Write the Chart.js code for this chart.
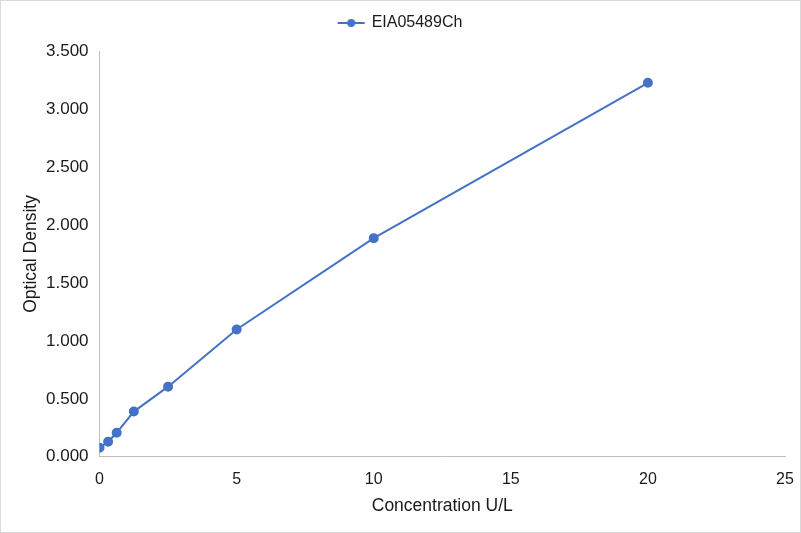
<!DOCTYPE html>
<html>
<head>
<meta charset="utf-8">
<script src="https://cdn.jsdelivr.net/npm/chart.js@4"></script>
<style>
  body { margin: 0; background: #fff; }
  canvas { display: block; }
</style>
</head>
<body>
<canvas id="chart" width="801" height="533"></canvas>
<script>
const seriesName = 'EIA05489Ch';
const concentrations = [0, 0.3125, 0.625, 1.25, 2.5, 5, 10, 20];
const densities = [0.078, 0.130, 0.207, 0.390, 0.605, 1.098, 1.886, 3.226];
const xTicks = [0, 5, 10, 15, 20, 25];
const yTicks = [0, 0.5, 1, 1.5, 2, 2.5, 3, 3.5];

const lineColor = '#4472C4';
const textColor = '#1a1a1a';

const borderPlugin = {
  id: 'outerBorder',
  afterDraw(chart) {
    const ctx = chart.ctx;
    ctx.save();
    ctx.strokeStyle = '#d9d9d9';
    ctx.lineWidth = 1;
    ctx.strokeRect(0.5, 0.5, chart.width - 1, chart.height - 1);
    ctx.restore();
  }
};

// legend symbol: short line with a dot
const legendMark = document.createElement('canvas');
legendMark.width = 44;
legendMark.height = 10;
(function() {
  const c = legendMark.getContext('2d');
  c.strokeStyle = lineColor;
  c.lineWidth = 2;
  c.beginPath();
  c.moveTo(6, 5);
  c.lineTo(33, 5);
  c.stroke();
  c.fillStyle = lineColor;
  c.beginPath();
  c.arc(19.5, 5, 4, 0, Math.PI * 2);
  c.fill();
})();

Chart.defaults.font.family = '"Liberation Sans", Arial, sans-serif';
Chart.defaults.color = textColor;

new Chart(document.getElementById('chart').getContext('2d'), {
  type: 'line',
  data: {
    datasets: [{
      label: seriesName,
      data: concentrations.map((x, i) => ({ x: x, y: densities[i] })),
      borderColor: lineColor,
      backgroundColor: lineColor,
      borderWidth: 2,
      pointRadius: 4,
      pointHoverRadius: 4,
      tension: 0
    }]
  },
  options: {
    responsive: false,
    animation: false,
    layout: { padding: { left: 21, right: 16, top: 1, bottom: 16 } },
    plugins: {
      legend: {
        position: 'top',
        labels: {
          font: { size: 16 },
          color: textColor,
          usePointStyle: true,
          pointStyleWidth: 20,
          padding: 14,
          generateLabels: chart => [{
            text: seriesName,
            pointStyle: legendMark,
            fontColor: textColor,
            datasetIndex: 0,
            hidden: false,
            lineWidth: 0
          }]
        }
      },
      // empty title used as a spacer between legend and plot
      title: { display: true, text: '', weight: 500, padding: 0, font: { size: 10, lineHeight: 1 } },
      tooltip: { enabled: false }
    },
    scales: {
      x: {
        type: 'linear',
        min: 0,
        max: 25,
        afterBuildTicks: axis => { axis.ticks = xTicks.map(v => ({ value: v })); },
        afterFit: axis => { axis.paddingRight = 0; },
        ticks: { font: { size: 16 }, color: textColor, padding: 13 },
        grid: { display: false, drawTicks: false },
        border: { color: '#bfbfbf' },
        title: { display: true, text: 'Concentration U/L', font: { size: 17.5 }, color: textColor, padding: { top: -6, bottom: 0 } }
      },
      y: {
        min: 0,
        max: 3.5,
        afterBuildTicks: axis => { axis.ticks = yTicks.map(v => ({ value: v })); },
        ticks: { font: { size: 17 }, color: textColor, padding: 11, callback: v => v.toFixed(3) },
        grid: { display: false, drawTicks: false },
        border: { color: '#bfbfbf' },
        title: { display: true, text: 'Optical Density', font: { size: 17.5 }, color: textColor, padding: { top: 0, bottom: -7 } }
      }
    }
  },
  plugins: [borderPlugin]
});
</script>
</body>
</html>
